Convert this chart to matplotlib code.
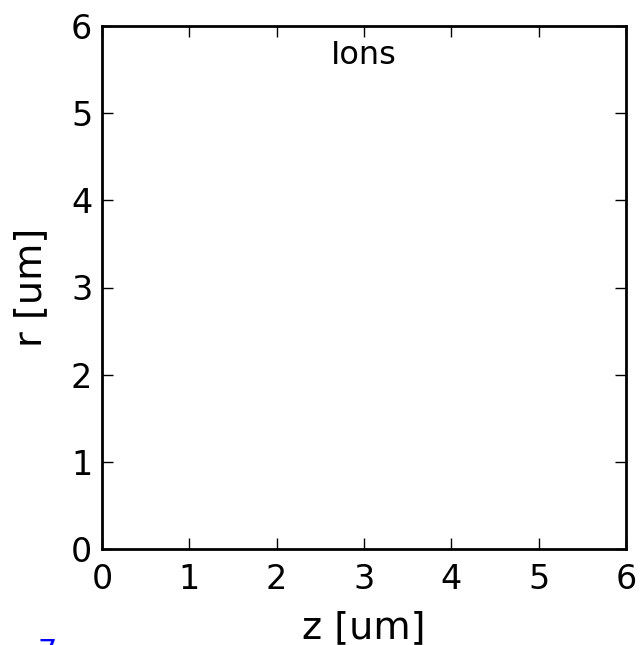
import numpy as np
import matplotlib
matplotlib.use("Agg")
import matplotlib.pyplot as plt

# axis ranges and ticks
z_ticks = [0, 1, 2, 3, 4, 5, 6]
r_ticks = [0, 1, 2, 3, 4, 5, 6]
z_lim = (0, 6)
r_lim = (0, 6)
title_text = "Ions"
frame_label = "7"

fig = plt.figure(figsize=(6.41, 6.45), dpi=100)
ax = fig.add_axes([102 / 641, 1 - 549 / 645, 524 / 641, 523 / 645])

ax.set_xlim(*z_lim)
ax.set_ylim(*r_lim)
ax.set_xticks(z_ticks)
ax.set_yticks(r_ticks)
ax.tick_params(direction="in", length=8, width=1, labelsize=24,
               top=True, right=True, pad=7)
ax.tick_params(axis="x", pad=10)
for sp in ax.spines.values():
    sp.set_linewidth(2)

ax.set_xlabel("z [um]", fontsize=27.5, labelpad=10)
ax.set_ylabel("r [um]", fontsize=27.5, labelpad=16)
ax.text(0.5, 1 - 30 / 523, title_text, transform=ax.transAxes, ha="center",
        va="center", fontsize=23)

# blue frame counter at the bottom left, mostly below the figure edge
fig.text(37 / 641, 1 - 661 / 645, frame_label, color="blue", fontsize=22,
         ha="left", va="baseline")

fig.savefig("out.png", dpi=100)
